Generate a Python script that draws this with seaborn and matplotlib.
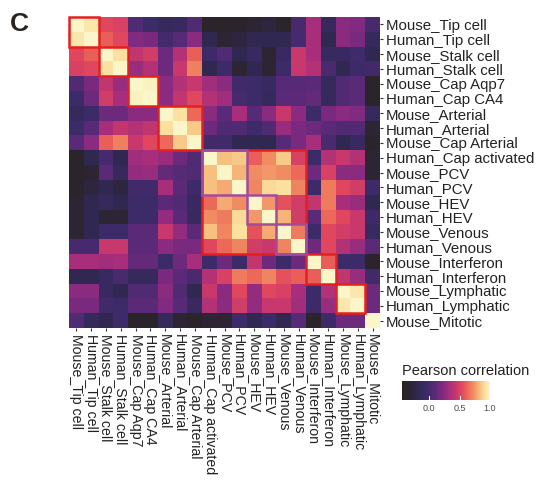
import numpy as np
import pandas as pd
import matplotlib
matplotlib.use("Agg")
import matplotlib.pyplot as plt
from matplotlib.colors import LinearSegmentedColormap
from matplotlib.patches import Rectangle
import seaborn as sns

sns.set_theme(style="white")
plt.rcParams["font.family"] = ["Liberation Sans", "DejaVu Sans"]

labels = [
    "Mouse_Tip cell", "Human_Tip cell", "Mouse_Stalk cell", "Human_Stalk cell",
    "Mouse_Cap Aqp7", "Human_Cap CA4", "Mouse_Arterial", "Human_Arterial",
    "Mouse_Cap Arterial", "Human_Cap activated", "Mouse_PCV", "Human_PCV",
    "Mouse_HEV", "Human_HEV", "Mouse_Venous", "Human_Venous",
    "Mouse_Interferon", "Human_Interferon", "Mouse_Lymphatic", "Human_Lymphatic",
    "Mouse_Mitotic",
]

# Pearson correlation between cell-type expression profiles
corr = [
    [1.00, 0.94, 0.53, 0.50, 0.05, -0.05, -0.13, -0.09, 0.05, -0.38, -0.38, -0.38, -0.32, -0.27, -0.38, 0.00, 0.33, -0.13, 0.25, 0.22, 0.00],
    [0.94, 1.00, 0.60, 0.53, 0.22, 0.20, -0.01, 0.08, 0.25, -0.20, -0.32, -0.27, -0.20, -0.20, -0.20, 0.00, 0.33, -0.20, 0.25, 0.20, -0.13],
    [0.53, 0.60, 1.00, 0.92, 0.42, 0.47, 0.16, 0.37, 0.60, -0.05, 0.05, -0.20, -0.09, -0.32, -0.09, 0.44, 0.33, -0.09, -0.09, -0.03, -0.20],
    [0.50, 0.53, 0.92, 1.00, 0.29, 0.37, 0.16, 0.44, 0.69, -0.20, -0.05, -0.32, -0.20, -0.32, -0.05, 0.44, 0.37, 0.02, -0.20, -0.05, -0.03],
    [0.05, 0.20, 0.42, 0.29, 1.00, 0.98, 0.25, 0.37, 0.44, 0.31, 0.25, -0.03, -0.05, -0.09, 0.08, 0.08, 0.10, -0.13, 0.05, 0.10, -0.38],
    [-0.05, 0.16, 0.47, 0.33, 0.98, 1.00, 0.25, 0.42, 0.53, 0.37, 0.31, 0.00, -0.05, -0.13, 0.10, 0.10, 0.13, -0.13, 0.05, 0.10, -0.38],
    [-0.13, -0.05, 0.16, 0.16, 0.25, 0.25, 1.00, 0.92, 0.63, 0.25, 0.10, 0.33, 0.08, 0.25, 0.44, 0.25, -0.05, 0.20, 0.25, 0.22, -0.13],
    [-0.05, 0.08, 0.33, 0.42, 0.37, 0.42, 0.92, 1.00, 0.86, 0.16, 0.05, 0.05, -0.05, 0.05, 0.29, 0.20, 0.16, 0.10, 0.05, 0.05, -0.32],
    [0.10, 0.25, 0.60, 0.69, 0.44, 0.53, 0.63, 0.86, 1.00, -0.03, -0.03, -0.20, -0.20, -0.20, 0.08, 0.20, 0.33, 0.02, -0.20, -0.09, -0.38],
    [-0.38, -0.20, 0.00, -0.20, 0.31, 0.33, 0.29, 0.16, 0.05, 1.00, 0.84, 0.86, 0.60, 0.72, 0.86, 0.50, -0.05, 0.37, 0.44, 0.37, -0.32],
    [-0.38, -0.32, 0.10, -0.13, 0.27, 0.29, 0.13, 0.08, 0.05, 0.84, 1.00, 0.81, 0.72, 0.75, 0.72, 0.63, 0.16, 0.50, 0.25, 0.25, -0.32],
    [-0.38, -0.27, -0.20, -0.27, -0.03, -0.03, 0.33, 0.10, -0.05, 0.84, 0.79, 1.00, 0.71, 0.90, 0.92, 0.70, -0.05, 0.68, 0.53, 0.47, -0.05],
    [-0.32, -0.20, -0.13, -0.20, -0.05, -0.05, 0.10, 0.05, -0.09, 0.63, 0.79, 0.72, 1.00, 0.75, 0.56, 0.47, 0.42, 0.68, 0.33, 0.29, -0.20],
    [-0.32, -0.20, -0.32, -0.32, -0.05, -0.05, 0.27, 0.10, -0.09, 0.72, 0.68, 0.90, 0.75, 1.00, 0.81, 0.47, 0.10, 0.63, 0.53, 0.44, -0.05],
    [-0.32, -0.20, -0.05, -0.05, 0.10, 0.10, 0.44, 0.27, 0.10, 0.84, 0.71, 0.92, 0.56, 0.79, 1.00, 0.68, -0.05, 0.53, 0.47, 0.44, -0.09],
    [0.00, 0.00, 0.44, 0.44, 0.10, 0.10, 0.25, 0.20, 0.20, 0.53, 0.63, 0.70, 0.47, 0.44, 0.70, 1.00, 0.16, 0.53, 0.37, 0.29, 0.10],
    [0.33, 0.33, 0.31, 0.33, 0.13, 0.13, -0.05, 0.16, 0.33, -0.05, 0.16, -0.05, 0.42, 0.16, -0.05, 0.16, 1.00, 0.60, -0.05, -0.05, -0.38],
    [-0.20, -0.20, -0.09, 0.02, -0.13, -0.13, 0.20, 0.10, 0.02, 0.37, 0.50, 0.68, 0.63, 0.70, 0.56, 0.60, 0.60, 1.00, 0.42, 0.29, -0.03],
    [0.25, 0.25, -0.09, -0.20, 0.05, 0.05, 0.25, 0.05, -0.20, 0.44, 0.25, 0.53, 0.27, 0.53, 0.50, 0.33, -0.05, 0.37, 1.00, 0.94, 0.16],
    [0.20, 0.20, -0.03, -0.05, 0.10, 0.10, 0.22, 0.08, -0.09, 0.37, 0.25, 0.47, 0.27, 0.44, 0.44, 0.31, -0.05, 0.29, 0.94, 1.00, 0.16],
    [0.05, -0.13, -0.20, -0.05, -0.38, -0.38, -0.13, -0.32, -0.38, -0.32, -0.32, -0.05, -0.20, -0.05, -0.20, 0.08, -0.38, -0.05, 0.16, 0.16, 1.00],
]

# Matching-population groups (first index, size)
red_groups = [(0, 2), (2, 2), (4, 2), (6, 3), (9, 7), (16, 2), (18, 2)]
purple_groups = [(9, 3), (12, 2), (14, 2)]

cbar_ticks = [0.0, 0.5, 1.0]
vmin, vmax = -0.45, 1.0

stops = [(-0.45, "#2a2420"), (-0.30, "#2d2538"), (-0.20, "#302850"), (-0.05, "#3d2a68"),
         (0.10, "#5a2a78"), (0.22, "#802a80"), (0.33, "#a82e7c"), (0.44, "#c8386c"),
         (0.53, "#e0465e"), (0.62, "#ec6458"), (0.72, "#f08a62"), (0.84, "#f8c080"),
         (0.92, "#fbe0a0"), (1.00, "#faf6ca")]
cmap = LinearSegmentedColormap.from_list(
    "corr", [((v - vmin) / (vmax - vmin), c) for v, c in stops])

df = pd.DataFrame(corr, index=labels, columns=labels)

W, H = 535, 483
fig = plt.figure(figsize=(W / 100, H / 100), dpi=100)
ax = fig.add_axes([69 / W, 1 - 328 / H, 311 / W, 311 / H])
cax = fig.add_axes([402 / W, 1 - 400 / H, 88 / W, 19 / H])

sns.heatmap(df, ax=ax, cmap=cmap, vmin=vmin, vmax=vmax, square=False,
            xticklabels=labels, yticklabels=labels, cbar_ax=cax,
            cbar_kws={"orientation": "horizontal", "ticks": cbar_ticks})

text_col = "#222222"
ax.yaxis.tick_right()
ax.set_yticklabels(labels, rotation=0, fontsize=10.8, color=text_col)
ax.set_xticklabels(labels, rotation=-90, fontsize=10.2, color=text_col,
                   ha="center", va="top")
ax.tick_params(axis="both", length=2.5, width=0.8, color="#333333", pad=1.5,
               bottom=True, right=True, left=False, top=False)
ax.set_xlabel("")
ax.set_ylabel("")

for start, size in red_groups:
    ax.add_patch(Rectangle((start, start), size, size, fill=False,
                           ec="#e3201f", lw=1.8, clip_on=False, zorder=3))
for start, size in purple_groups:
    ax.add_patch(Rectangle((start, start), size, size, fill=False,
                           ec="#a24c9c", lw=1.8, clip_on=False, zorder=4))

# colour bar styling
cax.tick_params(axis="x", length=0, pad=3, labelsize=6.5, labelcolor="#4d4d4d")
for t in cbar_ticks:
    cax.plot([t, t], [0, 0.2], color="white", lw=0.8,
             transform=cax.get_xaxis_transform())
for s in cax.spines.values():
    s.set_visible(False)
cax.set_title("Pearson correlation", fontsize=10.5, color=text_col,
              loc="left", pad=4)

fig.text(10 / W, 1 - 31 / H, "C", fontsize=19, fontweight="bold",
         color="#2a2420", va="baseline", ha="left")

fig.savefig("out.png", dpi=100)
